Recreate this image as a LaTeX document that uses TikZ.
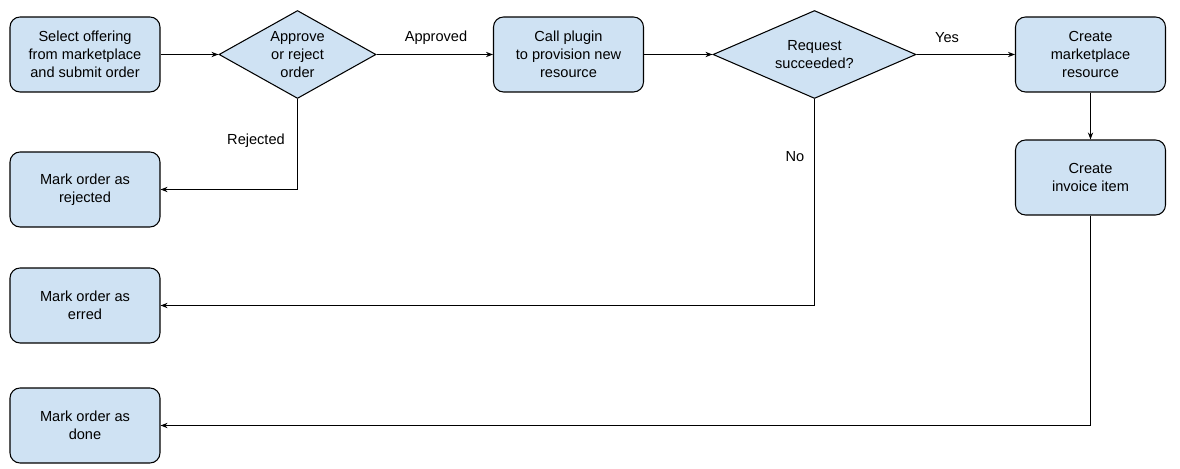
\documentclass[tikz,border=0pt]{standalone}
\usepackage{fontspec}
\setmainfont{Liberation Sans}
\definecolor{stepblue}{RGB}{207, 226, 243}
\usetikzlibrary{shapes.geometric, arrows.meta, positioning}

\begin{document}
\begin{tikzpicture}[x=0.02cm, y=-0.02cm,
  txt/.style={font=\fontsize{8.3pt}{10.2pt}\selectfont},
  box/.style={txt, draw, line width=0.6pt, rounded corners=0.2cm, fill=stepblue,
    minimum width=3cm, minimum height=1.5cm, align=center},
  decision/.style={txt, draw, diamond, line width=0.6pt, fill=stepblue, aspect=1.8,
    inner sep=0pt, align=center},
  flow/.style={-{Stealth[length=4pt, width=3pt]}, line width=0.6pt}]
  \useasboundingbox (0, 0) rectangle (1180, 469);

  % Main row
  \node[box] (select) at (85, 54.5) {Select offering\\from marketplace\\and submit order};
  \node[decision, minimum width=3.14cm, minimum height=1.76cm] (approve) at (297.5, 54.5) {Approve\\or reject\\order};
  \node[box] (plugin) at (568.5, 54.5) {Call plugin\\to provision new\\resource};
  \node[decision, minimum width=4.06cm, minimum height=1.76cm] (request) at (814.5, 54.5) {Request\\succeeded?};
  \node[box] (create) at (1090.5, 54.5) {Create\\marketplace\\resource};
  \node[box] (invoice) at (1090.5, 177.5) {Create\\invoice item};

  % Final states
  \node[box] (rejected) at (85, 189.5) {Mark order as\\rejected};
  \node[box] (erred) at (85, 305.5) {Mark order as\\erred};
  \node[box] (done) at (85, 425.5) {Mark order as\\done};

  % Forward arrows
  \draw[flow] (select) -- (approve);
  \draw[flow] (approve) -- (plugin);
  \draw[flow] (plugin) -- (request);
  \draw[flow] (request) -- (create);
  \draw[flow] (create) -- (invoice);

  % Back to the final states
  \draw[flow] (approve.south) |- (rejected.east);
  \draw[flow] (request.south) |- (erred.east);
  \draw[flow] (invoice.south) |- (done.east);

  % Labels
  \node[txt] (approvedlbl) at (436, 38) {Approved};
  \node[txt] (yeslbl) at (947, 38) {Yes};
  \node[txt] (rejectedlbl) at (256, 141) {Rejected};
  \node[txt] (nolbl) at (795, 157) {No};
\end{tikzpicture}
\end{document}
